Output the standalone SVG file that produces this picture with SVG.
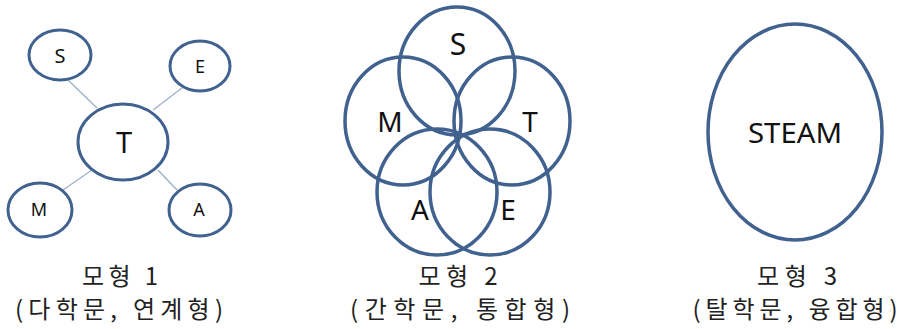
<svg xmlns="http://www.w3.org/2000/svg" width="901" height="329" viewBox="0 0 901 329">
<style>
.c{fill:none;stroke:#41628f;stroke-width:3}
.c2{fill:none;stroke:#41628f;stroke-width:3.5}
.l{stroke:#a3b3c9;stroke-width:1.5}
.t{font-family:"Noto Sans","Open Sans",sans-serif;fill:#111;text-anchor:middle}
.k{font-family:"Noto Sans CJK KR","Noto Sans",sans-serif;fill:#222;font-size:24px;text-anchor:middle}
</style>
<rect width="901" height="329" fill="#fff"/>
<g id="connectors">
<line class="l" x1="68" y1="80" x2="97" y2="108"/>
<line class="l" x1="182" y1="88" x2="153" y2="110"/>
<line class="l" x1="63" y1="190" x2="92" y2="170"/>
<line class="l" x1="158" y1="170" x2="177" y2="190"/>
</g>
<g id="m1-S"><ellipse class="c" cx="60" cy="55" rx="31" ry="25"/><text class="t" x="60" y="63" font-size="20">S</text></g>
<g id="m1-E"><ellipse class="c" cx="200" cy="66" rx="30" ry="25"/><text class="t" x="200" y="73" font-size="18">E</text></g>
<g id="m1-T"><ellipse class="c" cx="123" cy="142" rx="45" ry="38"/><text class="t" x="124" y="153" font-size="29">T</text></g>
<g id="m1-M"><ellipse class="c" cx="40" cy="210" rx="32" ry="27"/><text class="t" x="39" y="216" font-size="18">M</text></g>
<g id="m1-A"><ellipse class="c" cx="200" cy="210" rx="31" ry="26"/><text class="t" x="199" y="216" font-size="18">A</text></g>
<g id="m1-label">
<text class="k" x="120" y="285" textLength="76" lengthAdjust="spacing">모형 1</text>
<text class="k" x="119" y="318" textLength="208" lengthAdjust="spacing">(다학문, 연계형)</text>
</g>
<g id="m2-S"><ellipse class="c2" cx="457" cy="71" rx="58" ry="64"/></g>
<g id="m2-M"><ellipse class="c2" cx="403" cy="121" rx="58" ry="64"/></g>
<g id="m2-T"><ellipse class="c2" cx="512" cy="121" rx="58" ry="64"/></g>
<g id="m2-A"><ellipse class="c2" cx="437" cy="192" rx="60" ry="63"/></g>
<g id="m2-E"><ellipse class="c2" cx="490" cy="192" rx="60" ry="63"/></g>
<g id="m2-letters">
<text class="t" x="458" y="55" font-size="30">S</text>
<text class="t" x="390" y="132" font-size="28">M</text>
<text class="t" x="530" y="132" font-size="28">T</text>
<text class="t" x="420" y="220" font-size="28">A</text>
<text class="t" x="508" y="220" font-size="28">E</text>
</g>
<g id="m2-label">
<text class="k" x="458" y="285" textLength="79" lengthAdjust="spacing">모형 2</text>
<text class="k" x="460" y="318" textLength="220" lengthAdjust="spacing">(간학문, 통합형)</text>
</g>
<g id="m3"><ellipse class="c2" cx="795" cy="132" rx="87" ry="108"/><text class="t" x="795" y="143" font-size="27" textLength="94" lengthAdjust="spacingAndGlyphs">STEAM</text></g>
<g id="m3-label">
<text class="k" x="797" y="285" textLength="80" lengthAdjust="spacing">모형 3</text>
<text class="k" x="795" y="318" textLength="205" lengthAdjust="spacing">(탈학문, 융합형)</text>
</g>
</svg>
